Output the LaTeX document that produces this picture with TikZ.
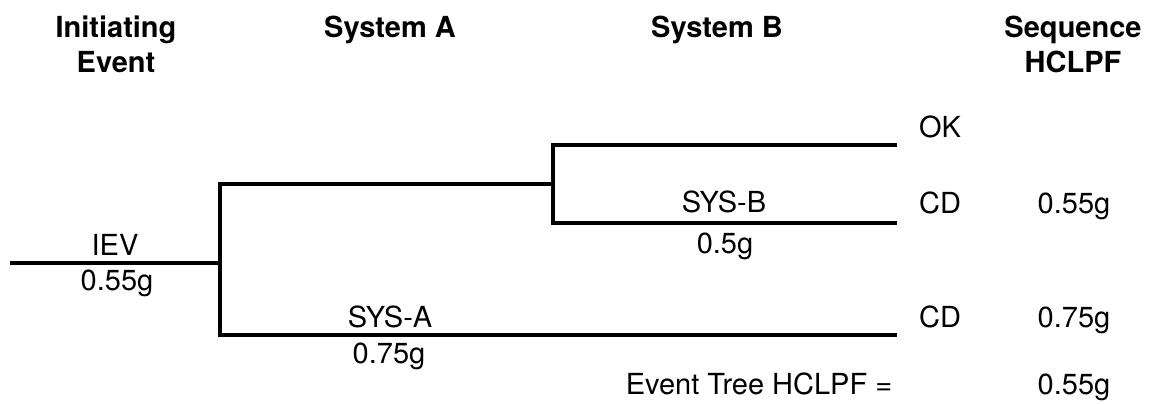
\documentclass[tikz,border=0pt]{standalone}
\usepackage{fontspec}
\setmainfont{TeX Gyre Heros}
\begin{document}
\begin{tikzpicture}[x=1bp,y=-1bp,line width=3.5bp,
		every node/.style={inner sep=0pt,font=\fontsize{29bp}{35bp}\selectfont},
		lbl/.style={anchor=base},
		hdr/.style={anchor=north,align=center,font=\fontsize{29bp}{35bp}\selectfont\bfseries}]
			\useasboundingbox (0,0) rectangle (1149,403);
			% column heads
			\node[hdr] (hinit) at (116,14) {Initiating\\Event};
			\node[hdr] (hsysa) at (390,14) {System A};
			\node[hdr] (hsysb) at (717,14) {System B};
			\node[hdr] (hseq) at (1073,14) {Sequence\\HCLPF};
			% branch points
			\coordinate (ie0) at (10,263);
			\coordinate (ie1) at (220,263);
			\coordinate (a0) at (220,184);
			\coordinate (a1) at (220,335);
			\coordinate (b0) at (553,184);
			\coordinate (bok) at (553,145);
			\coordinate (bcd) at (553,223);
			\coordinate (okend) at (897,145);
			\coordinate (bend) at (897,223);
			\coordinate (aend) at (897,335);
			\draw (ie0) -- (ie1);
			\draw (b0) -- (a0) -- (a1) -- (aend);
			\draw (okend) -- (bok) -- (bcd) -- (bend);
			% event labels
			\node[lbl] (iev) at (115,255) {IEV};
			\node[lbl] (ievg) at (117,290) {0.55g};
			\node[lbl] (sysa) at (390,327) {SYS-A};
			\node[lbl] (sysag) at (389,363) {0.75g};
			\node[lbl] (sysb) at (724,212) {SYS-B};
			\node[lbl] (sysbg) at (725,253) {0.5g};
			% sequences
			\node[lbl] (ok) at (940,137) {OK};
			\node[lbl] (cd1) at (940,213) {CD};
			\node[lbl] (cd2) at (940,327) {CD};
			\node[lbl] (hc1) at (1074,213) {0.55g};
			\node[lbl] (hc2) at (1074,327) {0.75g};
			\node[lbl] (tot) at (759,394) {Event Tree HCLPF =};
			\node[lbl] (totg) at (1074,394) {0.55g};
		\end{tikzpicture}
\end{document}
